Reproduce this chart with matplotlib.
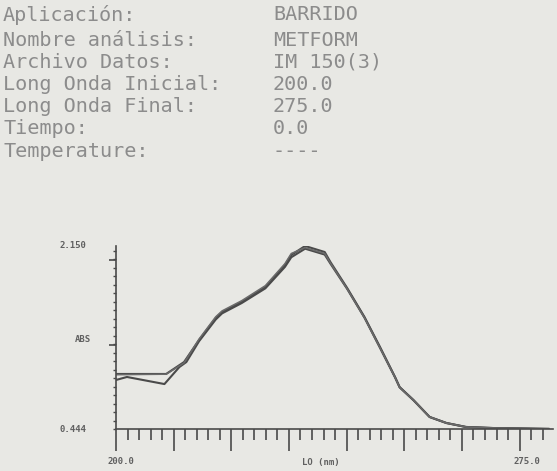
import numpy as np
import matplotlib.pyplot as plt

# ======================
# HEADER TEXT
# ======================
header_labels = ['Aplicación:', 'Nombre análisis:', 'Archivo Datos:',
                 'Long Onda Inicial:', 'Long Onda Final:', 'Tiempo:', 'Temperature:']
header_values = ['BARRIDO', 'METFORM', 'IM 150(3)', '200.0', '275.0', '0.0', '----']

# ======================
# SPECTRA (nm vs ABS)
# ======================
wl_a = [200.0, 208.7, 211.8, 214.4, 217.3, 218.4, 221.8, 225.9, 229.3, 230.4, 232.8,
        236.2, 237.2, 240.1, 243.1, 245.8, 248.4, 249.2, 251.6, 254.4, 257.3, 260.7,
        265.4, 275.0]
abs_a = [0.957, 0.957, 1.068, 1.273, 1.479, 1.534, 1.628, 1.767, 1.972, 2.066, 2.150,
         2.094, 2.000, 1.758, 1.488, 1.208, 0.929, 0.835, 0.714, 0.556, 0.500, 0.463,
         0.453, 0.444]

wl_b = [200.0, 201.9, 208.4, 211.0, 212.2, 214.4, 217.3, 218.4, 221.8, 225.9, 229.3,
        230.4, 232.8, 236.2, 237.2, 240.1, 243.1, 245.8, 248.4, 249.2, 251.6, 254.4,
        257.3, 260.7, 265.4, 275.0]
abs_b = [0.901, 0.929, 0.863, 1.022, 1.068, 1.262, 1.465, 1.522, 1.618, 1.755, 1.955,
         2.045, 2.125, 2.070, 1.985, 1.750, 1.482, 1.200, 0.925, 0.832, 0.712, 0.556,
         0.500, 0.463, 0.453, 0.446]

wl_c = [200.0, 208.7, 211.8, 214.4, 217.3, 218.4, 221.8, 225.9, 229.3, 230.4, 232.8,
        236.2, 237.2, 240.1, 243.1, 245.8, 248.4, 249.2, 251.6, 254.4, 257.3, 260.7,
        265.4, 275.0]
abs_c = [0.950, 0.955, 1.060, 1.282, 1.490, 1.545, 1.640, 1.780, 1.985, 2.080, 2.135,
         2.080, 1.990, 1.750, 1.480, 1.200, 0.925, 0.832, 0.712, 0.556, 0.500, 0.463,
         0.453, 0.444]

bg = '#e8e8e4'
ink = '#4a4a4a'
text_gray = '#8c8c8c'

fig = plt.figure(figsize=(5.57, 4.71), dpi=100, facecolor=bg)

# ======================
# HEADER
# ======================
header_y = [15, 40, 62, 84, 107, 129, 152]
for lab, val, py in zip(header_labels, header_values, header_y):
    fig.text(3 / 557, 1 - py / 471, lab, family='DejaVu Sans Mono', fontsize=14.5,
             color=text_gray, va='center', ha='left')
    fig.text(273 / 557, 1 - py / 471, val, family='DejaVu Sans Mono', fontsize=14.5,
             color=text_gray, va='center', ha='left')

# ======================
# SPECTRUM AXES
# ======================
ax = fig.add_axes([116 / 557, (471 - 429) / 471, (553 - 116) / 557, (429 - 246) / 471])
ax.set_facecolor(bg)
ax.plot(wl_a, abs_a, color=ink, lw=1.5)
ax.plot(wl_b, abs_b, color=ink, lw=1.5)
ax.plot(wl_c, abs_c, color='#6a6a6a', lw=1.1)

ax.set_xlim(200, 275.8)
ax.set_ylim(0.444, 2.150)

for s in ['top', 'right']:
    ax.spines[s].set_visible(False)
ax.spines['left'].set_color(ink)
ax.spines['bottom'].set_color(ink)
ax.spines['left'].set_linewidth(1.2)
ax.spines['bottom'].set_linewidth(1.2)

ax.set_xticks(np.arange(200, 276, 10))
ax.set_xticks(np.arange(200, 276, 2), minor=True)
ax.tick_params(axis='x', which='major', direction='out', length=16, width=1.2,
               color=ink, labelbottom=False)
ax.tick_params(axis='x', which='minor', direction='out', length=8, width=1.2,
               color=ink, pad=2)

ax.set_yticks([1.227, 2.019])
ax.set_yticks(np.arange(0.444, 2.15, 0.0792), minor=True)
ax.tick_params(axis='y', which='major', direction='out', length=5, width=1.2,
               color=ink, labelleft=False)
ax.tick_params(axis='y', which='minor', direction='out', length=2.5, width=1.0,
               color=ink)

# axis annotations
lab_kw = dict(family='DejaVu Sans Mono', fontsize=6.5, color='#606060',
              fontweight='bold')
fig.text(60 / 557, 1 - 245 / 471, '2.150', va='center', ha='left', **lab_kw)
fig.text(75 / 557, 1 - 340 / 471, 'ABS', va='center', ha='left', **lab_kw)
fig.text(60 / 557, 1 - 430 / 471, '0.444', va='center', ha='left', **lab_kw)
fig.text(108 / 557, 1 - 462 / 471, '200.0', va='center', ha='left', **lab_kw)
fig.text(302 / 557, 1 - 462 / 471, 'LO (nm)', va='center', ha='left', **lab_kw)
fig.text(513 / 557, 1 - 462 / 471, '275.0', va='center', ha='left', **lab_kw)

fig.savefig('out.png', dpi=100, facecolor=bg)
